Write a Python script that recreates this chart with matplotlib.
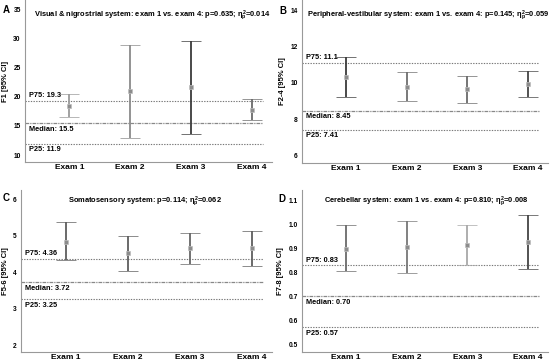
import matplotlib
matplotlib.use("Agg")
import matplotlib.pyplot as plt

plt.rcParams['font.family'] = ['Liberation Sans', 'DejaVu Sans']
plt.rcParams['font.weight'] = 'bold'
plt.rcParams['mathtext.fontset'] = 'custom'
plt.rcParams['mathtext.rm'] = 'Liberation Sans:bold'
plt.rcParams['mathtext.it'] = 'Liberation Sans:bold'
plt.rcParams['mathtext.bf'] = 'Liberation Sans:bold'

exams = ["Exam 1", "Exam 2", "Exam 3", "Exam 4"]

# panel A
a_mean = [18.4, 21.0, 21.7, 17.8]
a_low = [16.5, 13.0, 13.7, 16.0]
a_high = [20.5, 29.0, 29.6, 19.6]
a_ref = [19.3, 15.5, 11.9]
a_ticks = [10, 15, 20, 25, 30, 35]

# panel B
b_mean = [10.35, 9.8, 9.65, 9.95]
b_low = [9.2, 9.0, 8.9, 9.2]
b_high = [11.45, 10.6, 10.4, 10.65]
b_ref = [11.1, 8.45, 7.41]
b_ticks = [6, 8, 10, 12, 14]

# panel C
c_mean = [4.83, 4.52, 4.65, 4.67]
c_low = [4.33, 4.02, 4.23, 4.17]
c_high = [5.38, 4.99, 5.07, 5.14]
c_ref = [4.36, 3.72, 3.25]
c_ticks = [2, 3, 4, 5, 6]

# panel D
d_mean = [0.90, 0.905, 0.915, 0.93]
d_low = [0.805, 0.80, 0.83, 0.815]
d_high = [1.0, 1.015, 1.0, 1.04]
d_ref = [0.83, 0.70, 0.57]
d_ticks = [0.5, 0.6, 0.7, 0.8, 0.9, 1.0, 1.1]

panels = [
    dict(letter="A", mean=a_mean, low=a_low, high=a_high, ref=a_ref, ticks=a_ticks,
         fmt="{:g}", ylim=(8.8, 36.7), ylabel="F1 [95% CI]",
         title=r"Visual & nigrostrial system: exam 1 vs. exam 4: p=0.635; $\eta^2_p$=0.014",
         colors=["#9a9a9a", "#8a8a8a", "#3a3a3a", "#6a6a6a"],
         box=(25, 0, 272, 162), title_xy=(152, 15), letter_xy=(3, 10)),
    dict(letter="B", mean=b_mean, low=b_low, high=b_high, ref=b_ref, ticks=b_ticks,
         fmt="{:g}", ylim=(5.56, 14.6), ylabel="F2-4 [95% CI]",
         title=r"Peripheral-vestibular system: exam 1 vs. exam 4: p=0.145; $\eta^2_p$=0.059",
         colors=["#3a3a3a", "#6e6e6e", "#6a6a6a", "#444444"],
         box=(302, 0, 548, 163), title_xy=(428, 15), letter_xy=(279, 11)),
    dict(letter="C", mean=c_mean, low=c_low, high=c_high, ref=c_ref, ticks=c_ticks,
         fmt="{:g}", ylim=(1.81, 6.25), ylabel="F5-6 [95% CI]",
         title=r"Somatosensory system: p=0.114; $\eta^2_p$=0.062",
         colors=["#5e5e5e", "#5e5e5e", "#666666", "#5e5e5e"],
         box=(21, 190, 272, 352), title_xy=(145, 201), letter_xy=(3, 198)),
    dict(letter="D", mean=d_mean, low=d_low, high=d_high, ref=d_ref, ticks=d_ticks,
         fmt="{:.1f}", ylim=(0.467, 1.146), ylabel="F7-8 [95% CI]",
         title=r"Cerebellar system: exam 1 vs. exam 4: p=0.810; $\eta^2_p$=0.008",
         colors=["#6a6a6a", "#777777", "#a8a8a8", "#444444"],
         box=(302, 190, 548, 352), title_xy=(426, 201), letter_xy=(278, 199)),
]

W, H = 550, 363
fig = plt.figure(figsize=(5.5, 3.63), dpi=100)

for p in panels:
    x0, y0, x1, y1 = p["box"]
    ax = fig.add_axes([x0 / W, 1 - y1 / H, (x1 - x0) / W, (y1 - y0) / H])
    xs = range(1, 5)
    for x, m, lo, hi, col in zip(xs, p["mean"], p["low"], p["high"], p["colors"]):
        ax.errorbar([x], [m], yerr=[[m - lo], [hi - m]], fmt="s", ms=2.4,
                    color=col, mfc="#8c8c8c", mec="#bdbdbd", mew=0.5, ecolor=col,
                    elinewidth=1.3, capsize=7, capthick=1.3, zorder=3)
    p75, med, p25 = p["ref"]
    ax.axhline(p75, xmax=0.965, color="#777777", lw=0.8, ls=(0, (1.2, 1.2)))
    ax.axhline(med, xmax=0.965, color="#888888", lw=0.9, ls=(0, (3, 0.8, 1, 0.8)))
    ax.axhline(p25, xmax=0.965, color="#777777", lw=0.8, ls=(0, (1.2, 1.2)))
    span = p["ylim"][1] - p["ylim"][0]
    ax.text(0.34, p75 + span * 0.01, "P75: " + str(p75), fontsize=5.3, va="bottom", ha="left")
    ax.text(0.34, med - span * 0.015, "Median: " + ("{:.2f}".format(med) if p["letter"] == "D" else str(med)),
            fontsize=5.3, va="top", ha="left")
    ax.text(0.34, p25 - span * 0.015, "P25: " + str(p25), fontsize=5.3, va="top", ha="left")

    ax.set_xlim(0.27, 4.33)
    ax.set_ylim(*p["ylim"])
    ax.set_xticks(list(xs))
    ax.set_xticklabels(exams, fontsize=6, fontweight="bold")
    ax.set_yticks(p["ticks"])
    ax.set_yticklabels([p["fmt"].format(t) for t in p["ticks"]], fontsize=4.8, fontweight="bold")
    ax.tick_params(axis="both", length=0, pad=3)
    ax.tick_params(axis="x", pad=1.5)
    ax.set_ylabel(p["ylabel"], fontsize=5.5, fontweight="bold", labelpad=3)
    for s in ["top", "right"]:
        ax.spines[s].set_visible(False)
    for s in ["left", "bottom"]:
        ax.spines[s].set_color("#999999")
        ax.spines[s].set_linewidth(0.8)

    tx, ty = p["title_xy"]
    fig.text(tx / W, 1 - ty / H, p["title"], fontsize=5.4, fontweight="bold",
             ha="center", va="center")
    lx, ly = p["letter_xy"]
    fig.text(lx / W, 1 - ly / H, p["letter"], fontsize=7, fontweight="bold",
             ha="left", va="center")

fig.savefig("out.png", dpi=100)
